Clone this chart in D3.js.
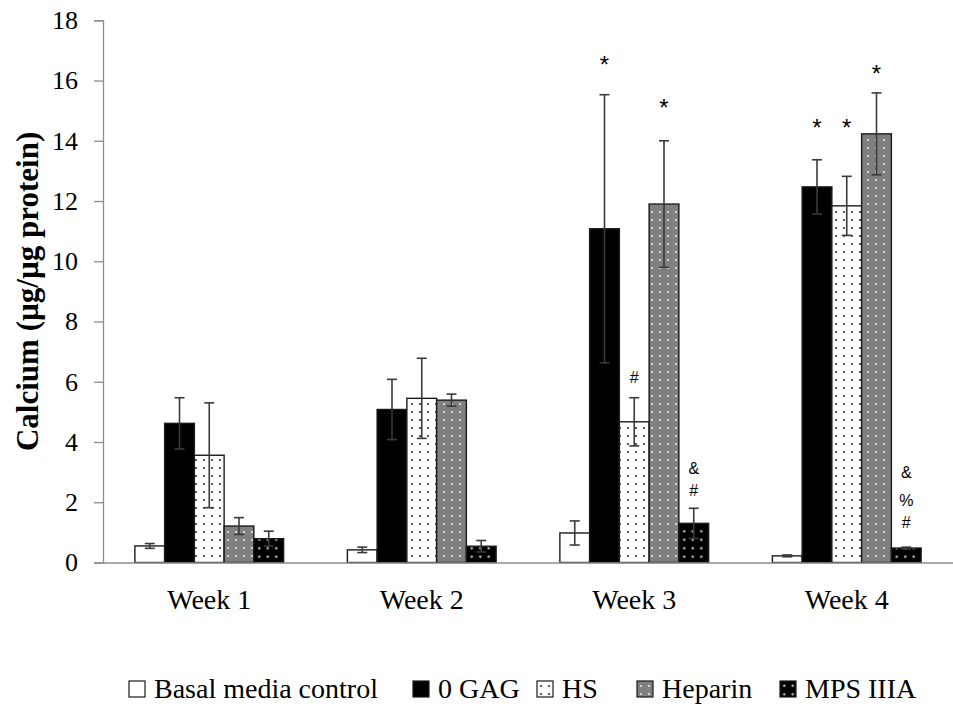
<!DOCTYPE html>
<html>
<head>
<meta charset="utf-8">
<script src="https://cdn.jsdelivr.net/npm/d3@7"></script>
<style>
  html, body { margin: 0; padding: 0; background: #fff; }
  svg { display: block; }
</style>
</head>
<body>
<svg id="chart" width="953" height="709"></svg>
<script>
// Calcium deposition per culture condition, weeks 1-4 (mean ± error)
const weeks = ["Week 1", "Week 2", "Week 3", "Week 4"];
const seriesNames = ["Basal media control", "0 GAG", "HS", "Heparin", "MPS IIIA"];
const legendLabels = ["Basal media control", "0 GAG", "HS", "Heparin", "MPS IIIA"];

const basalValues   = [0.55, 0.42, 0.98, 0.22];
const basalErrors   = [0.08, 0.09, 0.40, 0.03];
const gagValues     = [4.62, 5.08, 11.08, 12.47];
const gagErrors     = [0.85, 1.00, 4.45, 0.90];
const hsValues      = [3.56, 5.45, 4.67, 11.84];
const hsErrors      = [1.74, 1.33, 0.80, 0.98];
const heparinValues = [1.21, 5.39, 11.90, 14.23];
const heparinErrors = [0.28, 0.20, 2.10, 1.36];
const mpsValues     = [0.79, 0.54, 1.30, 0.48];
const mpsErrors     = [0.25, 0.19, 0.50, 0.03];

const yTicks = [0, 2, 4, 6, 8, 10, 12, 14, 16, 18];

// significance marks: week, series, height (data units) and symbol
const annotations = [
  { week: "Week 3", series: "0 GAG",    level: 16.68, text: "*" },
  { week: "Week 3", series: "HS",       level: 6.17,  text: "#" },
  { week: "Week 3", series: "Heparin",  level: 15.27, text: "*" },
  { week: "Week 3", series: "MPS IIIA", level: 3.14,  text: "&" },
  { week: "Week 3", series: "MPS IIIA", level: 2.41,  text: "#" },
  { week: "Week 4", series: "0 GAG",    level: 14.59, text: "*" },
  { week: "Week 4", series: "HS",       level: 14.59, text: "*" },
  { week: "Week 4", series: "Heparin",  level: 16.38, text: "*" },
  { week: "Week 4", series: "MPS IIIA", level: 3.01,  text: "&" },
  { week: "Week 4", series: "MPS IIIA", level: 2.08,  text: "%" },
  { week: "Week 4", series: "MPS IIIA", level: 1.33,  text: "#" }
];

const valueSets = [basalValues, gagValues, hsValues, heparinValues, mpsValues];
const errorSets = [basalErrors, gagErrors, hsErrors, heparinErrors, mpsErrors];

const rows = [];
weeks.forEach((w, wi) => {
  seriesNames.forEach((s, si) => {
    rows.push({ week: w, series: s, value: valueSets[si][wi], err: errorSets[si][wi] });
  });
});

const SERIF = '"Liberation Serif", "Times New Roman", serif';
const SANS = '"Liberation Sans", Arial, sans-serif';

const svg = d3.select("#chart");
const margin = { left: 103, right: 0, top: 20.3, bottom: 146.5 };
const W = 953, H = 709;

const x0 = d3.scaleBand().domain(weeks)
  .range([margin.left, W - margin.right])
  .paddingInner(0.3).paddingOuter(0.15);
const x1 = d3.scaleBand().domain(seriesNames).range([0, x0.bandwidth()]);
const y = d3.scaleLinear().domain([0, 18]).range([H - margin.bottom, margin.top]);

// fill patterns
const defs = svg.append("defs");
function dotPattern(id, bg, dot, size, r) {
  const p = defs.append("pattern").attr("id", id)
    .attr("patternUnits", "userSpaceOnUse")
    .attr("width", size).attr("height", size);
  p.append("rect").attr("width", size).attr("height", size).attr("fill", bg);
  p.append("circle").attr("cx", size / 2).attr("cy", size / 2).attr("r", r).attr("fill", dot);
  return "url(#" + id + ")";
}
const fills = {
  "Basal media control": "#ffffff",
  "0 GAG": "#000000",
  "HS": dotPattern("patHS", "#ffffff", "#333333", 8, 1.1),
  "Heparin": dotPattern("patHep", "#808080", "#e8e8e8", 8, 1.1),
  "MPS IIIA": dotPattern("patMPS", "#000000", "#d0d0d0", 8.5, 1.2)
};

// y axis
const yAxis = d3.axisLeft(y).tickValues(yTicks).tickSize(9).tickPadding(16);
const gy = svg.append("g").attr("transform", `translate(${margin.left},0)`).call(yAxis);
gy.select(".domain").attr("stroke", "#8c8c8c").attr("stroke-width", 1.3);
gy.selectAll(".tick line").attr("stroke", "#8c8c8c").attr("stroke-width", 1.3);
gy.selectAll(".tick text")
  .style("font-family", SERIF).style("font-size", "26px").attr("fill", "#000");

// bars
const bars = svg.append("g");
bars.selectAll("rect").data(rows).join("rect")
  .attr("x", d => x0(d.week) + x1(d.series))
  .attr("y", d => y(d.value))
  .attr("width", x1.bandwidth())
  .attr("height", d => y(0) - y(d.value))
  .attr("fill", d => fills[d.series])
  .attr("stroke", "#1a1a1a")
  .attr("stroke-width", 1.4);

// x axis baseline
const xAxis = d3.axisBottom(x0).tickSize(0).tickPadding(27);
const gx = svg.append("g").attr("transform", `translate(0,${y(0)})`).call(xAxis);
gx.select(".domain").attr("stroke", "#8c8c8c").attr("stroke-width", 1.3);
gx.selectAll(".tick text")
  .style("font-family", SERIF).style("font-size", "28px").attr("fill", "#000");

// error bars
const eb = svg.append("g").attr("stroke", "#3a3a3a").attr("stroke-width", 1.6);
rows.forEach(d => {
  const cx = x0(d.week) + x1(d.series) + x1.bandwidth() / 2;
  const top = y(d.value + d.err), bot = y(Math.max(0, d.value - d.err));
  eb.append("line").attr("x1", cx).attr("x2", cx).attr("y1", top).attr("y2", bot);
  eb.append("line").attr("x1", cx - 5).attr("x2", cx + 5).attr("y1", top).attr("y2", top);
  eb.append("line").attr("x1", cx - 5).attr("x2", cx + 5).attr("y1", bot).attr("y2", bot);
});

// significance symbols
svg.append("g").selectAll("text").data(annotations).join("text")
  .attr("x", d => x0(d.week) + x1(d.series) + x1.bandwidth() / 2)
  .attr("y", d => y(d.level) + (d.text === "*" ? 13 : 6))
  .attr("text-anchor", "middle")
  .style("font-family", SANS)
  .style("font-size", d => d.text === "*" ? "24px" : "16px")
  .attr("fill", "#000")
  .text(d => d.text);

// y axis title
svg.append("text")
  .attr("transform", `translate(38,${(y(0) + y(18)) / 2}) rotate(-90)`)
  .attr("text-anchor", "middle")
  .style("font-family", SERIF)
  .style("font-weight", "bold")
  .style("font-size", "31px")
  .text("Calcium (µg/µg protein)");

// legend
const legend = svg.append("g").attr("transform", "translate(0,690)");
const legendX = [129, 413, 537, 637, 780];
legendLabels.forEach((lab, i) => {
  const g = legend.append("g").attr("transform", `translate(${legendX[i]},0)`);
  g.append("rect").attr("x", 0).attr("y", -9).attr("width", 16).attr("height", 16)
    .attr("fill", fills[seriesNames[i]]).attr("stroke", "#1a1a1a").attr("stroke-width", 1.2);
  g.append("text").attr("x", 25).attr("y", 8)
    .style("font-family", SERIF).style("font-size", "28px").attr("fill", "#000")
    .text(lab);
});
</script>
</body>
</html>
